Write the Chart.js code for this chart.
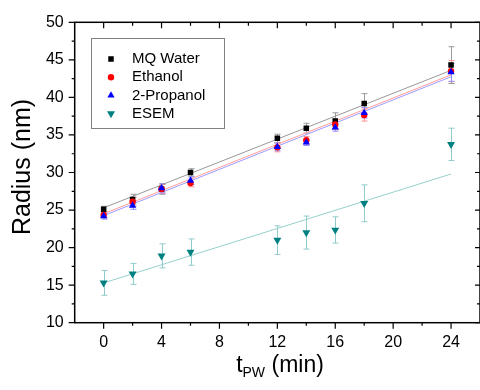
<!DOCTYPE html>
<html>
<head>
<meta charset="utf-8">
<script src="https://cdn.jsdelivr.net/npm/chart.js@4.4.1/dist/chart.umd.min.js"></script>
<style>
  html, body { margin: 0; padding: 0; background: #fff; overflow: hidden; }
  #wrap { width: 480px; height: 390px; overflow: hidden; }
</style>
</head>
<body>
<div id="wrap"><canvas id="radiusChart" width="490" height="390"></canvas></div>
<script>
// Tiempos de tratamiento (min)
const tiempos = [0, 2, 4, 6, 12, 14, 16, 18, 24];

// Radio medio (nm) y error para cada medio
const mqWater    = [25.1, 26.4, 27.8, 30.0, 34.55, 35.9, 36.85, 39.2, 44.3];
const mqErr      = [0.4, 0.7, 0.7, 0.5, 0.55, 0.65, 1.1, 1.3, 2.45];
const etanol     = [24.35, 26.1, 27.8, 28.6, 33.35, 34.3, 36.4, 37.65, 43.5];
const etanolErr  = [0.4, 0.6, 0.6, 0.5, 0.6, 0.5, 0.7, 0.8, 1.4];
const propanol   = [24.2, 25.6, 27.9, 28.9, 33.4, 34.0, 36.0, 37.95, 43.35];
const propErr    = [0.4, 0.5, 0.6, 0.5, 0.5, 0.4, 0.5, 0.7, 1.2];
const esem       = [15.3, 16.5, 18.9, 19.4, 21.0, 22.0, 22.35, 25.9, 33.75];
const esemErr    = [1.65, 1.4, 1.6, 1.75, 1.9, 2.2, 1.75, 2.45, 2.15];

// Ajustes lineales (extremos en t = 0 y t = 24)
const fitX        = [0, 24];
const mqFit       = [25.3, 43.6];
const etanolFit   = [24.5, 43.0];
const propanolFit = [24.25, 42.75];
const esemFit     = [15.3, 29.8];

// Etiquetas de los ejes
const xTickLabels = [0, 4, 8, 12, 16, 20, 24];
const yTickLabels = [10, 15, 20, 25, 30, 35, 40, 45, 50];

const FONT = "'Liberation Sans', Arial, sans-serif";

const puntos = (xs, ys) => xs.map((x, i) => ({ x: x, y: ys[i] }));

function serie(label, ys, errs, color, barColor, style, radius, rotation, order) {
    return {
        type: 'scatter',
        label: label,
        data: puntos(tiempos, ys),
        errores: errs,
        barColor: barColor,
        backgroundColor: color,
        borderColor: color,
        borderWidth: 0,
        pointStyle: style,
        pointRadius: radius,
        pointRotation: rotation,
        order: order
    };
}

function ajuste(ys, color) {
    return {
        type: 'line',
        data: puntos(fitX, ys),
        borderColor: color,
        borderWidth: 1,
        pointRadius: 0,
        fill: false,
        ajuste: true,
        order: 10
    };
}

// Barras de error (detrás de los marcadores)
const erroresPlugin = {
    id: 'errores',
    beforeDatasetsDraw(chart) {
        const ctx = chart.ctx;
        const y = chart.scales.y;
        ctx.save();
        ctx.lineWidth = 1;
        chart.data.datasets.forEach((ds, i) => {
            if (!ds.errores) return;
            ctx.strokeStyle = ds.barColor;
            chart.getDatasetMeta(i).data.forEach((pt, j) => {
                const v = ds.data[j].y, e = ds.errores[j];
                const px = Math.round(pt.x) + 0.5;
                const top = y.getPixelForValue(v + e);
                const bot = y.getPixelForValue(v - e);
                ctx.beginPath();
                ctx.moveTo(px, top); ctx.lineTo(px, bot);
                ctx.moveTo(px - 3, top); ctx.lineTo(px + 3, top);
                ctx.moveTo(px - 3, bot); ctx.lineTo(px + 3, bot);
                ctx.stroke();
            });
        });
        ctx.restore();
    }
};

// Marco, marcas de los ejes, títulos y leyenda
const marcoPlugin = {
    id: 'marco',
    afterDraw(chart) {
        const { ctx, chartArea: a, scales: { x, y } } = chart;
        ctx.save();
        ctx.strokeStyle = '#000';
        ctx.lineWidth = 1.5;
        ctx.strokeRect(a.left, a.top, a.right - a.left, a.bottom - a.top);

        ctx.lineWidth = 1.2;
        ctx.beginPath();
        x.ticks.forEach(t => {
            if (t.value <= x.min || t.value >= x.max) return;
            const px = x.getPixelForValue(t.value);
            const mayor = t.value % 4 === 0;
            ctx.moveTo(px, a.bottom); ctx.lineTo(px, a.bottom + (mayor ? 6 : 3));
            ctx.moveTo(px, a.top); ctx.lineTo(px, a.top + (mayor ? 6 : 3.5));
        });
        y.ticks.forEach(t => {
            const py = y.getPixelForValue(t.value);
            const mayor = t.value % 5 === 0;
            ctx.moveTo(a.left, py); ctx.lineTo(a.left - (mayor ? 6 : 3), py);
            ctx.moveTo(a.right, py); ctx.lineTo(a.right - (mayor ? 5 : 3), py);
        });
        ctx.stroke();

        // Títulos de los ejes
        ctx.fillStyle = '#000';
        ctx.textBaseline = 'middle';
        ctx.save();
        ctx.translate(23, 167);
        ctx.rotate(-Math.PI / 2);
        ctx.textAlign = 'center';
        ctx.font = '25px ' + FONT;
        ctx.fillText('Radius (nm)', 0, 0);
        ctx.restore();

        ctx.textAlign = 'left';
        const base = 372;
        ctx.textBaseline = 'alphabetic';
        ctx.font = '23px ' + FONT;
        const wT = ctx.measureText('t').width;
        ctx.font = '14px ' + FONT;
        const wSub = ctx.measureText('PW').width;
        ctx.font = '23px ' + FONT;
        const wRest = ctx.measureText(' (min)').width;
        let cx = 280 - (wT + wSub + wRest) / 2;
        ctx.fillText('t', cx, base);
        cx += wT;
        ctx.font = '14px ' + FONT;
        ctx.fillText('PW', cx, base + 5);
        cx += wSub;
        ctx.font = '23px ' + FONT;
        ctx.fillText(' (min)', cx, base);

        // Leyenda
        ctx.strokeStyle = '#808080';
        ctx.lineWidth = 1;
        ctx.strokeRect(91.5, 38.5, 133, 90);
        ctx.font = '15px ' + FONT;
        ctx.textBaseline = 'middle';
        let fila = 0;
        chart.data.datasets.forEach((ds, i) => {
            if (ds.ajuste) return;
            const ly = 59 + fila * 18.2;
            ctx.fillStyle = ds.backgroundColor;
            ctx.strokeStyle = ds.borderColor;
            Chart.helpers.drawPoint(ctx, {
                pointStyle: ds.pointStyle,
                radius: ds.pointRadius,
                rotation: ds.pointRotation,
                borderWidth: 0
            }, 111, ly);
            ctx.fillStyle = '#000';
            ctx.fillText(ds.label, 132, ly);
            fila++;
        });
        ctx.restore();
    }
};

new Chart(document.getElementById('radiusChart').getContext('2d'), {
    data: {
        datasets: [
            serie('MQ Water', mqWater, mqErr, '#000000', '#9a9a9a', 'rect', 3.9, 0, 3),
            serie('Ethanol', etanol, etanolErr, '#ff0000', '#ff9090', 'circle', 3.2, 0, 2),
            serie('2-Propanol', propanol, propErr, '#0000ff', '#9090ff', 'triangle', 4.2, 0, 1),
            serie('ESEM', esem, esemErr, '#008080', '#90cccc', 'triangle', 4.6, 180, 0),
            ajuste(mqFit, '#999999'),
            ajuste(etanolFit, '#ff9c9c'),
            ajuste(propanolFit, '#9c9cff'),
            ajuste(esemFit, '#96d0cc')
        ]
    },
    options: {
        responsive: false,
        animation: false,
        devicePixelRatio: 1,
        layout: { padding: { top: 22.3, right: 8.6, bottom: 0, left: 0 } },
        plugins: {
            legend: { display: false },
            tooltip: { enabled: false }
        },
        scales: {
            x: {
                type: 'linear',
                min: -2,
                max: 26,
                grid: { display: false, drawTicks: false },
                border: { display: false },
                afterFit: s => { s.height = 67.3; },
                ticks: {
                    stepSize: 2,
                    padding: 10,
                    color: '#000',
                    font: { family: FONT, size: 16 },
                    maxRotation: 0,
                    autoSkip: false,
                    callback: v => xTickLabels.includes(v) ? String(v) : ''
                }
            },
            y: {
                type: 'linear',
                min: 10,
                max: 50,
                grid: { display: false, drawTicks: false },
                border: { display: false },
                afterFit: s => { s.width = 74.7; },
                ticks: {
                    stepSize: 2.5,
                    padding: 11,
                    color: '#000',
                    font: { family: FONT, size: 16 },
                    autoSkip: false,
                    callback: v => yTickLabels.includes(v) ? String(v) : ''
                }
            }
        }
    },
    plugins: [erroresPlugin, marcoPlugin]
});
</script>
</body>
</html>
